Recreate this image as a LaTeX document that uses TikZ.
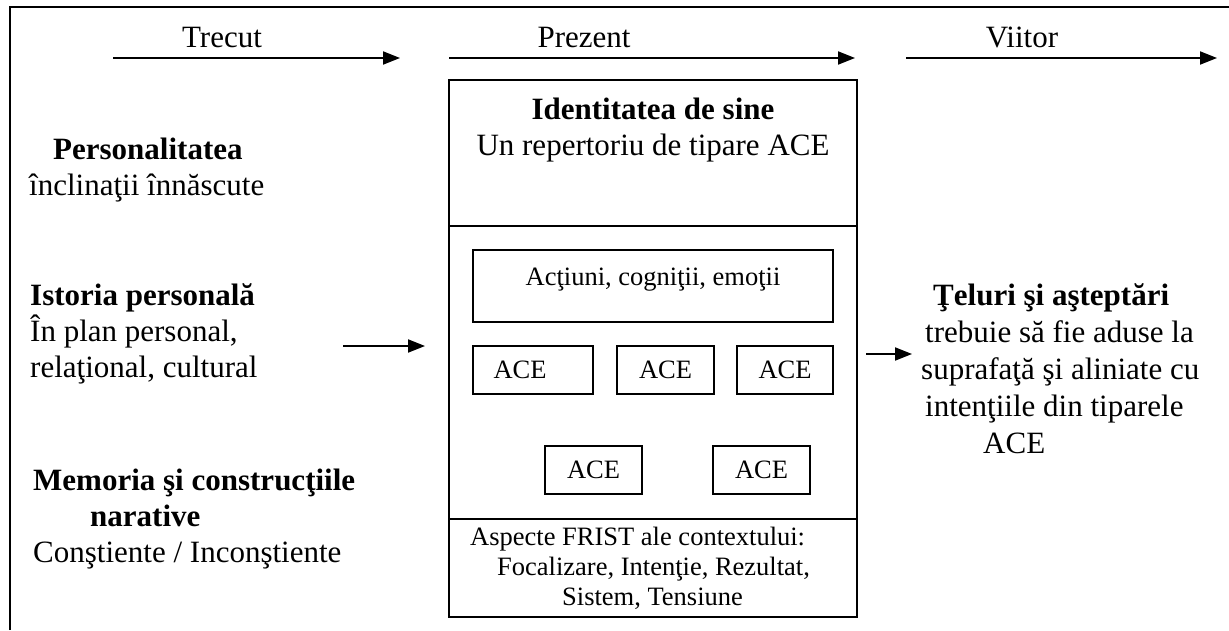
\documentclass[tikz,border=0pt]{standalone}
\usepackage{fontspec}
\setmainfont{Liberation Serif}
\usetikzlibrary{arrows.meta,positioning}

\tikzset{
  bigtext/.style={font=\fontsize{31}{36}\selectfont, inner sep=0pt},
  smalltext/.style={font=\fontsize{26.5}{30}\selectfont, inner sep=0pt},
  acebox/.style={draw, line width=1.6pt, smalltext, minimum height=48pt},
  timearrow/.style={line width=2pt, -{Triangle[length=17pt,width=13pt]}},
}

\begin{document}
\begin{tikzpicture}[x=1pt,y=-1pt]
  \useasboundingbox (0,0) rectangle (1229,630);
  % open frame
  \draw[line width=2pt] (10,630) -- (10,7) -- (1229,7);

  % time line
  \node[bigtext, anchor=base] (trecut) at (222,47) {Trecut};
  \node[bigtext, anchor=base] (prezent) at (584,47) {Prezent};
  \node[bigtext, anchor=base] (viitor) at (1022,47) {Viitor};
  \coordinate (t0) at (113,58);  \coordinate (t1) at (400,58);
  \coordinate (p0) at (449,58);  \coordinate (p1) at (855,58);
  \coordinate (v0) at (906,58);  \coordinate (v1) at (1217,58);
  \draw[timearrow] (t0) -- (t1);
  \draw[timearrow] (p0) -- (p1);
  \draw[timearrow] (v0) -- (v1);

  % past (base = last line)
  \node[bigtext, anchor=base west, align=left] (personalitatea) at (29,195)
    {\hspace*{24pt}\textbf{Personalitatea}\\înclinaţii înnăscute};
  \node[bigtext, anchor=base west, align=left] (istoria) at (30,377)
    {\textbf{Istoria personală}\\În plan personal,\\relaţional, cultural};
  \node[bigtext, anchor=base west, align=left] (memoria) at (33,562)
    {\textbf{Memoria şi construcţiile}\\\hspace*{57pt}\textbf{narative}\\Conştiente / Inconştiente};

  % present
  \node[draw, line width=1.6pt, minimum width=408pt, minimum height=537pt] (sine) at (653,348.5) {};
  \draw[line width=1.6pt] (sine.west |- 0,226) -- (sine.east |- 0,226);
  \draw[line width=1.6pt] (sine.west |- 0,519) -- (sine.east |- 0,519);
  \node[bigtext, anchor=base, align=center] (identitate) at (653,155)
    {\textbf{Identitatea de sine}\\Un repertoriu de tipare ACE};
  \node[acebox, minimum width=360pt, minimum height=72pt, text depth=18pt] (actiuni) at (653,286)
    {Acţiuni, cogniţii, emoţii};
  \node[acebox, minimum width=120pt] (ace1) at (533,370) {ACE\hspace*{26pt}};
  \node[acebox, minimum width=97pt] (ace2) at (665.5,370) {ACE};
  \node[acebox, minimum width=96pt] (ace3) at (785,370) {ACE};
  \node[acebox, minimum width=97pt] (ace4) at (593.5,470) {ACE};
  \node[acebox, minimum width=97pt] (ace5) at (761.5,470) {ACE};
  \node[smalltext, anchor=base west, align=left] (frist) at (470,605)
    {Aspecte FRIST ale contextului:\\\hspace*{27pt}Focalizare, Intenţie, Rezultat,\\\hspace*{92pt}Sistem, Tensiune};

  % future
  \node[bigtext, anchor=base west, align=left, font=\fontsize{31}{37}\selectfont] (teluri) at (921,453)
    {\hspace*{12pt}\textbf{Ţeluri şi aşteptări}\\\hspace*{4pt}trebuie să fie aduse la\\suprafaţă şi aliniate cu\\\hspace*{4pt}intenţiile din tiparele\\\hspace*{62pt}ACE};

  % in / out
  \coordinate (in0) at (343,346);  \coordinate (in1) at (425,346);
  \coordinate (out0) at (866,354); \coordinate (out1) at (912,354);
  \draw[timearrow] (in0) -- (in1);
  \draw[timearrow] (out0) -- (out1);
\end{tikzpicture}
\end{document}
